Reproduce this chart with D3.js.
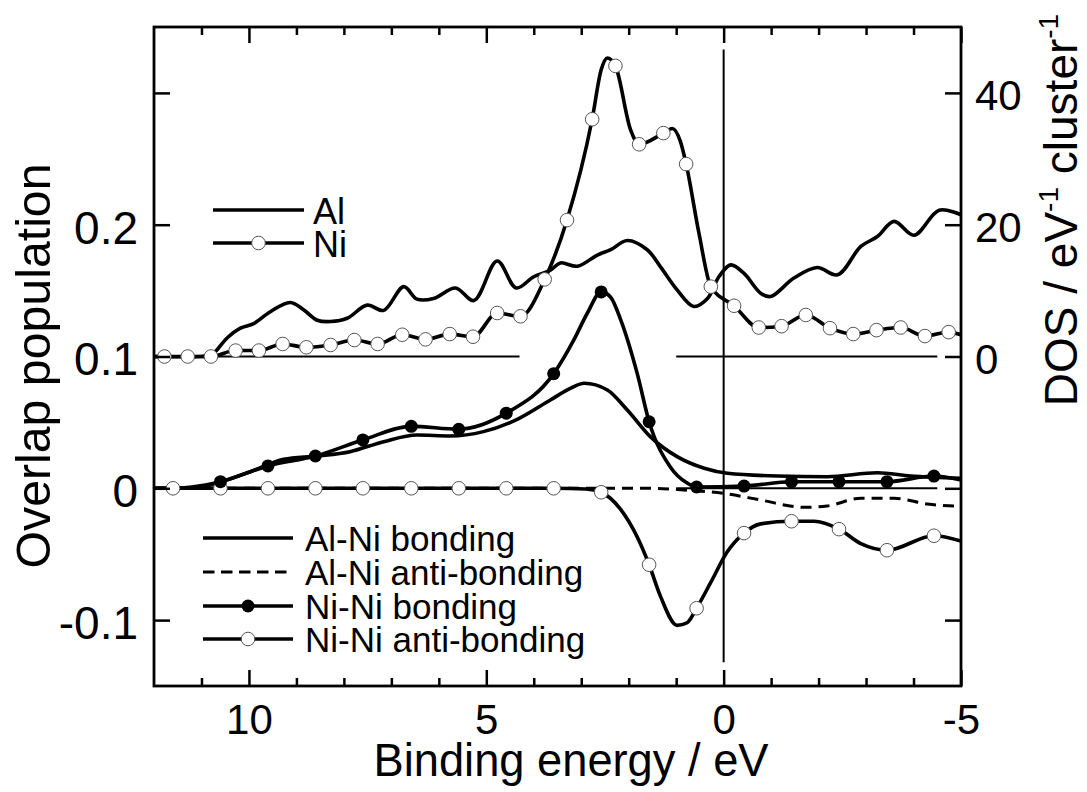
<!DOCTYPE html>
<html>
<head>
<meta charset="utf-8">
<script src="https://cdn.jsdelivr.net/npm/d3@7"></script>
<style>
  html, body { margin: 0; padding: 0; background: #fff; }
  svg { display: block; }
  text { font-family: "Liberation Sans", Arial, Helvetica, sans-serif; fill: #000; }
</style>
</head>
<body>
<svg id="chart" width="1087" height="792"></svg>
<script>
// ---------------- data (binding energy in eV) ----------------
// Al partial DOS (eV^-1 cluster^-1)
const alDosE = [12.0, 11.0, 10.85, 10.74, 10.46, 10.18, 9.90, 9.55, 9.13, 8.85, 8.56, 8.28, 7.93, 7.51, 7.16, 6.74, 6.46, 6.11, 5.65, 5.26, 4.77, 4.37, 4.00, 3.65, 3.44, 3.08, 2.66, 2.38, 2.03, 1.61, 1.33, 0.98, 0.63, 0.34, 0.10, -0.15, -0.43, -0.78, -0.99, -1.48, -1.97, -2.40, -2.89, -3.24, -3.59, -4.01, -4.54, -5.0];
const alDosV = [0, 0, 0.1, 0.5, 2.8, 4.3, 5.0, 6.8, 8.2, 7.1, 5.5, 5.3, 5.8, 7.8, 7.0, 10.6, 8.7, 8.8, 10.4, 8.5, 14.5, 10.4, 12.1, 13.1, 14.2, 13.7, 15.4, 16.2, 17.6, 16.2, 13.6, 10.1, 7.6, 8.8, 12.1, 13.9, 12.6, 9.6, 9.1, 11.9, 13.5, 12.4, 16.7, 18.2, 20.5, 18.4, 22.2, 21.5];

// Ni partial DOS (line) and its open markers
const niDosE = [12.0, 11.78, 11.29, 10.80, 10.28, 9.79, 9.29, 8.79, 8.28, 7.78, 7.29, 6.77, 6.28, 5.77, 5.28, 4.77, 4.28, 3.77, 3.30, 2.77, 2.58, 2.45, 2.28, 1.96, 1.78, 1.27, 1.08, 0.91, 0.79, 0.52, 0.27, -0.22, -0.74, -1.22, -1.73, -2.24, -2.73, -3.22, -3.73, -4.24, -4.74, -5.0];
const niDosV = [0, 0, 0, 0, 0.9, 0.9, 1.9, 1.4, 1.75, 2.5, 1.9, 3.3, 2.6, 3.4, 3.0, 6.6, 6.1, 11.7, 20.7, 36.0, 43.5, 45.3, 44.1, 34.4, 32.2, 33.9, 34.6, 32.6, 29.2, 18.7, 10.6, 7.7, 4.4, 4.6, 6.3, 4.3, 3.4, 4.0, 4.4, 3.1, 3.7, 3.3];
const niMarkE = [11.78, 11.29, 10.80, 10.28, 9.79, 9.29, 8.79, 8.28, 7.78, 7.29, 6.77, 6.28, 5.77, 5.28, 4.77, 4.28, 3.77, 3.30, 2.77, 2.28, 1.78, 1.27, 0.79, 0.27, -0.22, -0.74, -1.22, -1.73, -2.24, -2.73, -3.22, -3.73, -4.24, -4.74];
const niMarkV = [0, 0, 0, 0.9, 0.9, 1.9, 1.4, 1.75, 2.5, 1.9, 3.3, 2.6, 3.4, 3.0, 6.6, 6.1, 11.7, 20.7, 36.0, 44.1, 32.2, 33.9, 29.2, 10.6, 7.7, 4.4, 4.6, 6.3, 4.3, 3.4, 4.0, 4.4, 3.1, 3.7];

// Overlap populations
const alniBondE = [12.0, 11.4, 11.0, 10.67, 9.97, 9.27, 8.57, 7.87, 7.16, 6.46, 5.76, 5.06, 4.35, 3.65, 3.22, 2.94, 2.45, 2.03, 1.54, 0.98, 0.41, -0.08, -1.13, -2.18, -3.24, -3.94, -5.0];
const alniBondV = [0, 0, 0.001, 0.004, 0.0126, 0.022, 0.0245, 0.0278, 0.0354, 0.0404, 0.0397, 0.043, 0.0523, 0.067, 0.076, 0.0797, 0.0746, 0.0594, 0.039, 0.024, 0.0152, 0.0114, 0.0093, 0.0088, 0.0118, 0.0093, 0.0076];

const alniAntiE = [12.0, 1.5, 0.98, -0.08, -0.78, -1.69, -2.18, -2.89, -3.59, -4.29, -4.85, -5.0];
const alniAntiV = [0, 0, -0.001, -0.0043, -0.0089, -0.0144, -0.0134, -0.0076, -0.0076, -0.0119, -0.0134, -0.0134];

const ninBondE = [12.0, 11.6, 11.2, 10.6, 9.6, 8.6, 7.6, 6.58, 5.58, 4.58, 3.58, 3.15, 2.87, 2.58, 2.38, 2.17, 1.82, 1.57, 1.12, 0.77, 0.57, -0.43, -1.43, -2.43, -3.44, -4.43, -5.0];
const ninBondV = [0, 0, 0.001, 0.005, 0.017, 0.0245, 0.0367, 0.047, 0.0448, 0.057, 0.087, 0.113, 0.133, 0.149, 0.145, 0.128, 0.087, 0.0505, 0.016, 0.004, 0.001, 0.0017, 0.005, 0.005, 0.005, 0.0093, 0.0063];
const ninBondMarkE = [10.6, 9.6, 8.6, 7.6, 6.58, 5.58, 4.58, 3.58, 2.58, 1.57, 0.57, -0.43, -1.43, -2.43, -3.44, -4.43];
const ninBondMarkV = [0.005, 0.017, 0.0245, 0.0367, 0.047, 0.0448, 0.057, 0.087, 0.149, 0.0505, 0.001, 0.0017, 0.005, 0.005, 0.005, 0.0093];

const ninAntiE = [12.0, 11.6, 10.6, 9.6, 8.6, 7.6, 6.58, 5.58, 4.58, 3.58, 2.9, 2.58, 2.17, 1.82, 1.57, 1.33, 0.98, 0.77, 0.57, 0.28, -0.08, -0.43, -0.78, -1.43, -1.9, -2.43, -2.89, -3.44, -4.43, -5.0];
const ninAntiV = [0, 0, 0, 0, 0, 0, 0, 0, 0, 0, -0.0005, -0.003, -0.016, -0.037, -0.058, -0.082, -0.104, -0.102, -0.091, -0.072, -0.048, -0.034, -0.027, -0.025, -0.025, -0.031, -0.042, -0.047, -0.036, -0.040];
const ninAntiMarkE = [11.6, 10.6, 9.6, 8.6, 7.6, 6.58, 5.58, 4.58, 3.58, 2.58, 1.57, 0.57, -0.43, -1.43, -2.43, -3.44, -4.43];
const ninAntiMarkV = [0, 0, 0, 0, 0, 0, 0, 0, 0, -0.003, -0.058, -0.091, -0.034, -0.025, -0.031, -0.047, -0.036];

// reference lines
const dosZeroSegE = [[12.0, 4.3], [1.0, -4.5]];
const opZeroSegE = [[12.0, 4.3], [1.0, -4.5]];
const fermiLineV = [0.333, -0.132];

// ticks
const xMajorTicks = [10, 5, 0, -5];
const xMinorTicks = [11, 9, 8, 7, 6, 4, 3, 2, 1, -1, -2, -3, -4];
const yLeftTicks = [0.3, 0.2, 0.1, 0, -0.1];
const yLeftLabels = ["", "0.2", "0.1", "0", "-0.1"];
const yRightTicks = [40, 20, 0, -20, -40];
const yRightLabels = ["40", "20", "0", "", ""];

// legends
const legendTop = ["Al", "Ni"];
const legendBottom = ["Al-Ni bonding", "Al-Ni anti-bonding", "Ni-Ni bonding", "Ni-Ni anti-bonding"];

// ---------------- drawing ----------------
const svg = d3.select("#chart");
const L = 154, R = 961, T = 27, B = 686;

const x = d3.scaleLinear().domain([12, -5]).range([L, R]);
const y = d3.scaleLinear().domain([-0.15, 0.35]).range([B, T]);
const yD = d3.scaleLinear().domain([-50, 50]).range([B, T]);

const zip = (a, b) => a.map((v, i) => [v, b[i]]);

const defs = svg.append("defs");
defs.append("clipPath").attr("id", "plotclip")
  .append("rect").attr("x", L).attr("y", T).attr("width", R - L).attr("height", B - T);

const plot = svg.append("g").attr("clip-path", "url(#plotclip)");

// thin reference lines
dosZeroSegE.forEach(s => {
  plot.append("line").attr("x1", x(s[0])).attr("x2", x(s[1]))
    .attr("y1", yD(0)).attr("y2", yD(0)).attr("stroke", "#000").attr("stroke-width", 2);
});
opZeroSegE.forEach(s => {
  plot.append("line").attr("x1", x(s[0])).attr("x2", x(s[1]))
    .attr("y1", y(0)).attr("y2", y(0)).attr("stroke", "#000").attr("stroke-width", 2);
});
plot.append("line").attr("x1", x(0)).attr("x2", x(0))
  .attr("y1", y(fermiLineV[0])).attr("y2", y(fermiLineV[1]))
  .attr("stroke", "#000").attr("stroke-width", 2);

const lineD = d3.line().x(d => x(d[0])).y(d => yD(d[1]));
const lineO = d3.line().x(d => x(d[0])).y(d => y(d[1]));

const LW = 3.6;
// DOS curves
plot.append("path").datum(zip(alDosE, alDosV))
  .attr("d", lineD.curve(d3.curveCatmullRom.alpha(0.5)))
  .attr("fill", "none").attr("stroke", "#000").attr("stroke-width", LW).attr("stroke-linejoin", "round");
plot.append("path").datum(zip(niDosE, niDosV))
  .attr("d", lineD.curve(d3.curveMonotoneX))
  .attr("fill", "none").attr("stroke", "#000").attr("stroke-width", LW).attr("stroke-linejoin", "round");

// overlap curves
const lineOM = lineO.curve(d3.curveMonotoneX);
plot.append("path").datum(zip(alniAntiE, alniAntiV)).attr("d", lineOM)
  .attr("fill", "none").attr("stroke", "#000").attr("stroke-width", 3).attr("stroke-dasharray", "11,7");
plot.append("path").datum(zip(alniBondE, alniBondV)).attr("d", lineOM)
  .attr("fill", "none").attr("stroke", "#000").attr("stroke-width", LW);
plot.append("path").datum(zip(ninAntiE, ninAntiV)).attr("d", lineOM)
  .attr("fill", "none").attr("stroke", "#000").attr("stroke-width", LW);
plot.append("path").datum(zip(ninBondE, ninBondV)).attr("d", lineOM)
  .attr("fill", "none").attr("stroke", "#000").attr("stroke-width", LW);

// markers
const RM = 6.8;
plot.selectAll("circle.niAnti").data(zip(ninAntiMarkE, ninAntiMarkV)).join("circle")
  .attr("cx", d => x(d[0])).attr("cy", d => y(d[1])).attr("r", RM)
  .attr("fill", "#fff").attr("stroke", "#555").attr("stroke-width", 1);
plot.selectAll("circle.niBond").data(zip(ninBondMarkE, ninBondMarkV)).join("circle")
  .attr("cx", d => x(d[0])).attr("cy", d => y(d[1])).attr("r", RM - 0.3)
  .attr("fill", "#000");
plot.selectAll("circle.niDos").data(zip(niMarkE, niMarkV)).join("circle")
  .attr("cx", d => x(d[0])).attr("cy", d => yD(d[1])).attr("r", RM)
  .attr("fill", "#fff").attr("stroke", "#555").attr("stroke-width", 1);

// axes (ticks inward)
function styleAxis(g) {
  g.select(".domain").remove();
  g.selectAll(".tick line").attr("stroke", "#000").attr("stroke-width", 2.5);
}
svg.append("g").attr("transform", `translate(0,${B})`)
  .call(d3.axisBottom(x).tickValues(xMinorTicks).tickSizeInner(-8).tickSizeOuter(0).tickFormat(""))
  .call(styleAxis);
const bx = svg.append("g").attr("transform", `translate(0,${B})`)
  .call(d3.axisBottom(x).tickValues(xMajorTicks).tickSizeInner(-16).tickSizeOuter(0).tickPadding(18).tickFormat(d => String(d)))
  .call(styleAxis);
bx.selectAll("text").attr("font-size", 42).attr("font-family", "Liberation Sans, Arial, sans-serif").attr("fill", "#000");

svg.append("g").attr("transform", `translate(0,${T})`)
  .call(d3.axisTop(x).tickValues(xMinorTicks).tickSizeInner(-8).tickSizeOuter(0).tickFormat(""))
  .call(styleAxis);
svg.append("g").attr("transform", `translate(0,${T})`)
  .call(d3.axisTop(x).tickValues(xMajorTicks).tickSizeInner(-16).tickSizeOuter(0).tickFormat(""))
  .call(styleAxis);

const ly = svg.append("g").attr("transform", `translate(${L},0)`)
  .call(d3.axisLeft(y).tickValues(yLeftTicks).tickSizeInner(-16).tickSizeOuter(0).tickPadding(16)
    .tickFormat((d, i) => yLeftLabels[i]))
  .call(styleAxis);
ly.selectAll("text").attr("font-size", 46).attr("dy", "0.4em").attr("font-family", "Liberation Sans, Arial, sans-serif").attr("fill", "#000");

const ry = svg.append("g").attr("transform", `translate(${R},0)`)
  .call(d3.axisRight(yD).tickValues(yRightTicks).tickSizeInner(-16).tickSizeOuter(0).tickPadding(14)
    .tickFormat((d, i) => yRightLabels[i]))
  .call(styleAxis);
ry.selectAll("text").attr("font-size", 42).attr("dy", "0.4em").attr("font-family", "Liberation Sans, Arial, sans-serif").attr("fill", "#000");

// frame
svg.append("rect").attr("x", L).attr("y", T).attr("width", R - L).attr("height", B - T)
  .attr("fill", "none").attr("stroke", "#000").attr("stroke-width", 2.8);

// axis titles
svg.append("text").attr("x", 571).attr("y", 776).attr("text-anchor", "middle")
  .attr("font-size", 47).attr("textLength", 395).attr("lengthAdjust", "spacingAndGlyphs")
  .text("Binding energy / eV");
svg.append("text").attr("transform", "translate(50,366) rotate(-90)").attr("text-anchor", "middle")
  .attr("font-size", 48).attr("textLength", 405).attr("lengthAdjust", "spacingAndGlyphs")
  .text("Overlap population");
const rt = svg.append("text").attr("transform", "translate(1077,210) rotate(-90)").attr("text-anchor", "middle")
  .attr("font-size", 46);
rt.append("tspan").text("DOS / eV");
rt.append("tspan").attr("font-size", 28).attr("dy", -19).text("-1");
rt.append("tspan").attr("dy", 19).text(" cluster");
rt.append("tspan").attr("font-size", 28).attr("dy", -19).text("-1");

// top legend (DOS)
const lg1 = svg.append("g");
const lg1Rows = [210, 243];
lg1Rows.forEach((ry0, i) => {
  lg1.append("line").attr("x1", 213).attr("x2", 304).attr("y1", ry0).attr("y2", ry0)
    .attr("stroke", "#000").attr("stroke-width", LW);
  if (i === 1) lg1.append("circle").attr("cx", 258.5).attr("cy", ry0).attr("r", RM)
    .attr("fill", "#fff").attr("stroke", "#555").attr("stroke-width", 1);
  lg1.append("text").attr("x", 313).attr("y", ry0 + 14).attr("font-size", 36).text(legendTop[i]);
});

// bottom legend (overlap)
const lg2 = svg.append("g");
const lg2Rows = [538, 572, 606, 639];
lg2Rows.forEach((ry0, i) => {
  const ln = lg2.append("line").attr("x1", 203).attr("x2", 293).attr("y1", ry0).attr("y2", ry0)
    .attr("stroke", "#000").attr("stroke-width", i === 1 ? 3 : LW);
  if (i === 1) ln.attr("stroke-dasharray", "11.5,6.5");
  if (i === 2) lg2.append("circle").attr("cx", 248).attr("cy", ry0).attr("r", RM - 0.3).attr("fill", "#000");
  if (i === 3) lg2.append("circle").attr("cx", 248).attr("cy", ry0).attr("r", RM)
    .attr("fill", "#fff").attr("stroke", "#555").attr("stroke-width", 1);
  lg2.append("text").attr("x", 305).attr("y", ry0 + 13).attr("font-size", 35).text(legendBottom[i]);
});
</script>
</body>
</html>
